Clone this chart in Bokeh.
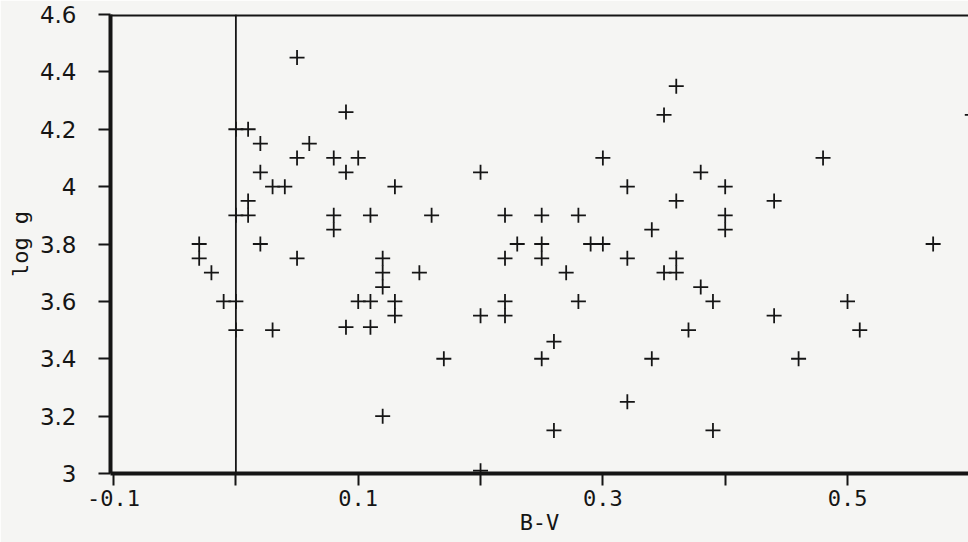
from bokeh.plotting import figure
from bokeh.models import FixedTicker, Span, ColumnDataSource
from bokeh.embed import file_html
from bokeh.resources import INLINE

# ---- data ----
bv = [0.05, 0.00, 0.01, 0.02, 0.06, 0.05, 0.09, 0.08, 0.10, 0.09,
      0.02, 0.20, 0.30, 0.36, 0.35, 0.48, 0.38, 0.32, 0.03, 0.04,
      0.13, 0.40, 0.01, 0.36, 0.44, 0.00, 0.01, 0.08, 0.08, 0.11,
      0.16, 0.22, 0.25, 0.28, 0.34, 0.40, 0.40, 0.57, -0.03, -0.03,
      -0.02, -0.01, 0.00, 0.02, 0.05, 0.00, 0.03, 0.23, 0.25, 0.25,
      0.29, 0.30, 0.22, 0.32, 0.12, 0.12, 0.12, 0.15, 0.27, 0.10,
      0.11, 0.13, 0.13, 0.28, 0.22, 0.22, 0.20, 0.09, 0.11, 0.26,
      0.17, 0.25, 0.34, 0.46, 0.12, 0.32, 0.26, 0.39, 0.20, 0.37,
      0.51, 0.35, 0.36, 0.38, 0.39, 0.50, 0.44, 0.36, 0.602]
logg = [4.45, 4.20, 4.20, 4.15, 4.15, 4.10, 4.26, 4.10, 4.10, 4.05,
        4.05, 4.05, 4.10, 4.35, 4.25, 4.10, 4.05, 4.00, 4.00, 4.00,
        4.00, 4.00, 3.95, 3.95, 3.95, 3.90, 3.90, 3.90, 3.85, 3.90,
        3.90, 3.90, 3.90, 3.90, 3.85, 3.90, 3.85, 3.80, 3.80, 3.75,
        3.70, 3.60, 3.60, 3.80, 3.75, 3.50, 3.50, 3.80, 3.80, 3.75,
        3.80, 3.80, 3.75, 3.75, 3.75, 3.70, 3.65, 3.70, 3.70, 3.60,
        3.60, 3.60, 3.55, 3.60, 3.60, 3.55, 3.55, 3.51, 3.51, 3.46,
        3.40, 3.40, 3.40, 3.40, 3.20, 3.25, 3.15, 3.15, 3.01, 3.50,
        3.50, 3.70, 3.70, 3.65, 3.60, 3.60, 3.55, 3.75, 4.25]

x_ticks = [-0.1, 0.0, 0.1, 0.2, 0.3, 0.4, 0.5]
x_tick_labels = ["-0.1", "", "0.1", "", "0.3", "", "0.5"]
y_ticks = [3.0, 3.2, 3.4, 3.6, 3.8, 4.0, 4.2, 4.4, 4.6]
y_tick_labels = ["3", "3.2", "3.4", "3.6", "3.8", "4", "4.2", "4.4", "4.6"]

INK = "#151515"
BG = "#f5f5f3"

p = figure(width=968, height=542, x_range=(-0.1025, 0.5989), y_range=(3.0, 4.6),
           output_backend="svg", toolbar_location=None,
           min_border_left=110, min_border_right=0, min_border_top=14, min_border_bottom=69)
p.background_fill_color = BG
p.border_fill_color = BG
p.outline_line_color = None
p.xgrid.visible = False
p.ygrid.visible = False

# x axis
xa = p.xaxis[0]
xa.ticker = FixedTicker(ticks=x_ticks)
xa.major_label_overrides = dict(zip(x_ticks, x_tick_labels))
xa.axis_line_width = 4
xa.axis_line_color = INK
xa.major_tick_in = 0
xa.major_tick_out = 12
xa.major_tick_line_width = 2
xa.major_tick_line_color = INK
xa.minor_tick_line_color = None
xa.major_label_text_font = "DejaVu Sans Mono"
xa.major_label_text_font_size = "22px"
xa.major_label_text_color = INK
xa.major_label_standoff = 4
xa.axis_label = "B-V"
xa.axis_label_text_font = "DejaVu Sans Mono"
xa.axis_label_text_font_size = "22px"
xa.axis_label_text_font_style = "normal"
xa.axis_label_text_color = INK
xa.axis_label_standoff = 1

# y axis
ya = p.yaxis[0]
ya.ticker = FixedTicker(ticks=y_ticks)
ya.major_label_overrides = dict(zip(y_ticks, y_tick_labels))
ya.axis_line_width = 4
ya.axis_line_color = INK
ya.major_tick_in = 0
ya.major_tick_out = 12
ya.major_tick_line_width = 2
ya.major_tick_line_color = INK
ya.minor_tick_line_color = None
ya.major_label_text_font = "DejaVu Sans"
ya.major_label_text_font_size = "23px"
ya.major_label_text_color = INK
ya.major_label_standoff = 22
ya.axis_label = "log g"
ya.axis_label_text_font = "DejaVu Sans Mono"
ya.axis_label_text_font_size = "22px"
ya.axis_label_text_font_style = "normal"
ya.axis_label_text_color = INK
ya.axis_label_standoff = 4

# frame top line and reference line at B-V = 0
p.add_layout(Span(location=4.6, dimension="width", line_color=INK, line_width=4))
p.add_layout(Span(location=0.0, dimension="height", line_color=INK, line_width=1.8))

src = ColumnDataSource(data=dict(bv=bv, logg=logg))
p.scatter("bv", "logg", source=src, marker="cross", size=15,
          line_color=INK, line_width=1.8)

open("out.html", "w").write(file_html(p, INLINE))
